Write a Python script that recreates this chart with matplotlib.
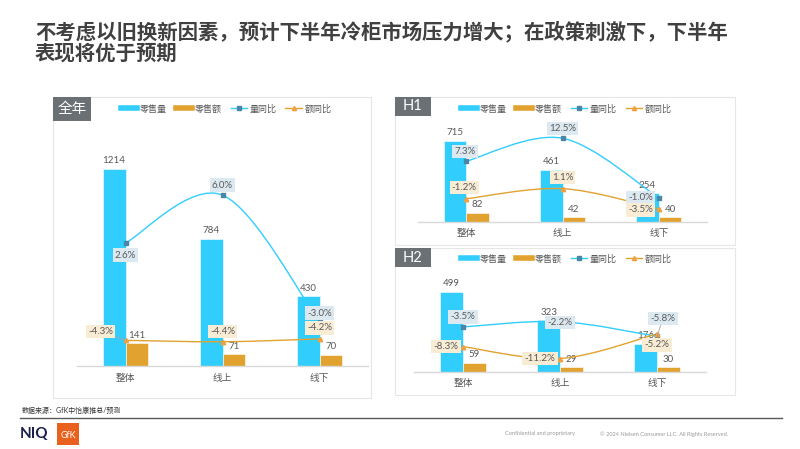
import matplotlib
matplotlib.use("Agg")
import matplotlib.pyplot as plt
from matplotlib.path import Path
from matplotlib.patches import PathPatch, Rectangle
from matplotlib.lines import Line2D

plt.rcParams['font.family'] = ['Lato', 'Noto Sans CJK SC', 'DejaVu Sans']

# ---- data ----
cats = ['整体', '线上', '线下']

year_vol = [1214, 784, 430]
year_val = [141, 71, 70]
year_vol_yoy = [2.6, 6.0, -3.0]
year_val_yoy = [-4.3, -4.4, -4.2]

h1_vol = [715, 461, 254]
h1_val = [82, 42, 40]
h1_vol_yoy = [7.3, 12.5, -1.0]
h1_val_yoy = [-1.2, 1.1, -3.5]

h2_vol = [499, 323, 176]
h2_val = [59, 29, 30]
h2_vol_yoy = [-3.5, -2.2, -5.8]
h2_val_yoy = [-8.3, -11.2, -5.2]

legend_names = ['零售量', '零售额', '量同比', '额同比']

BLUE = '#31CDFD'
ORANGE = '#E1A22F'
VOL_MK = '#4A86A8'
VAL_MK = '#F0A040'
TXT = '#595959'
BOX_VOL = '#DCE9F1'
BOX_VAL = '#F8ECD5'

W, H = 800, 449
fig = plt.figure(figsize=(8, 4.49), dpi=100)


def fbox(x0, y0, x1, y1):
    # pixel box (y from top) -> figure fraction rect
    return [x0 / W, 1 - y1 / H, (x1 - x0) / W, (y1 - y0) / H]


def smooth_path(xs, ys):
    # excel-style smoothed line (catmull-rom as cubic beziers)
    pts = list(zip(xs, ys))
    n = len(pts)
    verts = [pts[0]]
    codes = [Path.MOVETO]
    for i in range(n - 1):
        p0 = pts[max(i - 1, 0)]
        p1 = pts[i]
        p2 = pts[i + 1]
        p3 = pts[min(i + 2, n - 1)]
        c1 = (p1[0] + (p2[0] - p0[0]) / 6, p1[1] + (p2[1] - p0[1]) / 6)
        c2 = (p2[0] - (p3[0] - p1[0]) / 6, p2[1] - (p3[1] - p1[1]) / 6)
        verts += [c1, c2, p2]
        codes += [Path.CURVE4] * 3
    return Path(verts, codes)


def panel_frame(x0, y0, x1, y1, label, lw_box):
    fig.add_artist(Rectangle((x0 / W, 1 - y1 / H), (x1 - x0) / W, (y1 - y0) / H,
                             transform=fig.transFigure, facecolor='white',
                             edgecolor='#E6E6E6', lw=0.8, zorder=0))
    lx1, ly1 = lw_box
    fig.add_artist(Rectangle((x0 / W, 1 - ly1 / H), (lx1 - x0) / W, (ly1 - y0) / H,
                             transform=fig.transFigure, facecolor='#6B7075',
                             edgecolor='none', zorder=1))
    fig.text((x0 + lx1) / 2 / W, 1 - (y0 + ly1) / 2 / H, label, color='white',
             fontsize=10.5, ha='center', va='center', zorder=2)


def legend_at(cx, cy):
    handles = [Line2D([], [], color=BLUE, lw=4),
               Line2D([], [], color=ORANGE, lw=4),
               Line2D([], [], color=BLUE, lw=1, marker='s', ms=2.5,
                      markerfacecolor=VOL_MK, markeredgecolor=VOL_MK),
               Line2D([], [], color=ORANGE, lw=1, marker='^', ms=3,
                      markerfacecolor=VAL_MK, markeredgecolor=VAL_MK)]
    fig.legend(handles, legend_names, loc='center', bbox_to_anchor=(cx / W, 1 - cy / H),
               ncol=4, frameon=False, fontsize=6.5, handlelength=1.8,
               handletextpad=0.3, columnspacing=1.0, labelcolor=TXT)


def draw_chart(rect, ylim1, ylim2, vol, val, vol_yoy, val_yoy, vol_off, val_off,
               leaders, bw=0.235, pad=4):
    ax = fig.add_axes(rect)
    ax.set_facecolor('none')
    x = list(range(len(cats)))
    xb = [i - bw / 2 for i in x]
    xo = [i + bw / 2 for i in x]
    ax.bar(xb, vol, width=bw, color=BLUE, edgecolor='white', lw=0.4, zorder=2)
    ax.bar(xo, val, width=bw, color=ORANGE, edgecolor='white', lw=0.4, zorder=2)
    ax.set_xlim(-0.5, 2.5)
    ax.set_ylim(*ylim1)
    ax.set_xticks(x)
    ax.set_xticklabels(cats, fontsize=7, color=TXT)
    ax.tick_params(axis='x', length=0, pad=pad)
    ax.set_yticks([])
    for s in ['top', 'right', 'left']:
        ax.spines[s].set_visible(False)
    ax.spines['bottom'].set_color('#D9D9D9')
    ax.spines['bottom'].set_linewidth(1.0)
    for xi, v in zip(xb, vol):
        ax.annotate(str(v), (xi, v), xytext=(0, 8), textcoords='offset pixels',
                    ha='center', va='center', fontsize=7, color=TXT, zorder=5)
    for xi, v in zip(xo, val):
        ax.annotate(str(v), (xi, v), xytext=(0, 8), textcoords='offset pixels',
                    ha='center', va='center', fontsize=7, color=TXT, zorder=5)

    ax2 = ax.twinx()
    ax2.set_ylim(*ylim2)
    ax2.set_yticks([])
    for s in ax2.spines.values():
        s.set_visible(False)
    ax2.add_patch(PathPatch(smooth_path(x, vol_yoy), fill=False, edgecolor=BLUE,
                            lw=1.0, zorder=3))
    ax2.add_patch(PathPatch(smooth_path(x, val_yoy), fill=False, edgecolor=ORANGE,
                            lw=1.0, zorder=3))
    ax2.plot(x, vol_yoy, ls='none', marker='s', ms=2.5, color=VOL_MK, zorder=4)
    ax2.plot(x, val_yoy, ls='none', marker='^', ms=3.2, color=VAL_MK, zorder=4)

    for series, offs, bg in [(vol_yoy, vol_off, BOX_VOL), (val_yoy, val_off, BOX_VAL)]:
        for i, (v, off) in enumerate(zip(series, offs)):
            lead = (bg, i) in leaders
            ax2.annotate(f'{v:.1f}%', (x[i], v), xytext=off, textcoords='offset pixels',
                         ha='center', va='center', fontsize=7, color=TXT, zorder=6,
                         bbox=dict(boxstyle='square,pad=0.22', fc=bg, ec='none'),
                         arrowprops=dict(arrowstyle='-', color='#A6A6A6', lw=0.6,
                                         shrinkA=0, shrinkB=1) if lead else None)
    return ax, ax2


# ---- title ----
fig.text(35 / W, 1 - 31 / H, '不考虑以旧换新因素，预计下半年冷柜市场压力增大；在政策刺激下，下半年',
         fontsize=14.7, fontweight='bold', color='#404040', va='center',
         family=['Noto Sans CJK SC'])
fig.text(35 / W, 1 - 53 / H, '表现将优于预期',
         fontsize=14.7, fontweight='bold', color='#404040', va='center',
         family=['Noto Sans CJK SC'])

# ---- panels ----
panel_frame(53, 97, 371, 398, '全年', (91, 121))
panel_frame(395, 97, 735, 245, 'H1', (431, 116))
panel_frame(395, 248, 735, 395, 'H2', (431, 267))

legend_at(226, 109)
legend_at(566, 109)
legend_at(566, 259)

draw_chart(fbox(77, 139, 368, 366), (0, 1398.6), (-6.12, 9.98),
           year_vol, year_val, year_vol_yoy, year_val_yoy,
           vol_off=[(0, -12), (0, 10), (0, 9)],
           val_off=[(-25, 9), (0, 10), (0, 11)],
           leaders=[(BOX_VAL, 0)], pad=6)

draw_chart(fbox(418, 118, 707, 222), (0, 918), (-6.45, 17.08),
           h1_vol, h1_val, h1_vol_yoy, h1_val_yoy,
           vol_off=[(-1, 10), (0, 10), (-18, 0)],
           val_off=[(-2, 11), (0, 11), (-18, -1)],
           leaders=[], pad=5)

draw_chart(fbox(414.5, 270, 705.5, 372), (0, 636), (-14.49, 10.39),
           h2_vol, h2_val, h2_vol_yoy, h2_val_yoy,
           vol_off=[(0, 10), (0, -1), (6, 18)],
           val_off=[(-17, 0), (-20, 0), (0, -11)],
           leaders=[(BOX_VOL, 2)], pad=5)

# ---- footer ----
fig.text(22 / W, 1 - 410 / H, '数据来源：GfK中怡康推总/预测', fontsize=5, color='#333333',
         va='center')
fig.add_artist(Line2D([20 / W, 782 / W], [1 - 418 / H, 1 - 418 / H],
                      transform=fig.transFigure, color='#5A5A5A', lw=1.0))
fig.text(20 / W, 1 - 434 / H, 'NIQ', fontsize=11, fontweight='bold', color='#1B1F4D',
         va='center')
fig.add_artist(Rectangle((57 / W, 1 - 445 / H), 22 / W, 22 / H, transform=fig.transFigure,
                         facecolor='#E8611D', edgecolor='none'))
fig.text(68 / W, 1 - 435 / H, 'GfK', fontsize=6.5, color='white', ha='center',
         va='center')
fig.text(575 / W, 1 - 434 / H, 'Confidential and proprietary', fontsize=4.1,
         color='#9A9A9A', ha='right', va='center')
fig.text(600 / W, 1 - 434 / H, '© 2024 Nielsen Consumer LLC. All Rights Reserved.',
         fontsize=4.1, color='#9A9A9A', ha='left', va='center')

fig.savefig('out.png', dpi=100)
